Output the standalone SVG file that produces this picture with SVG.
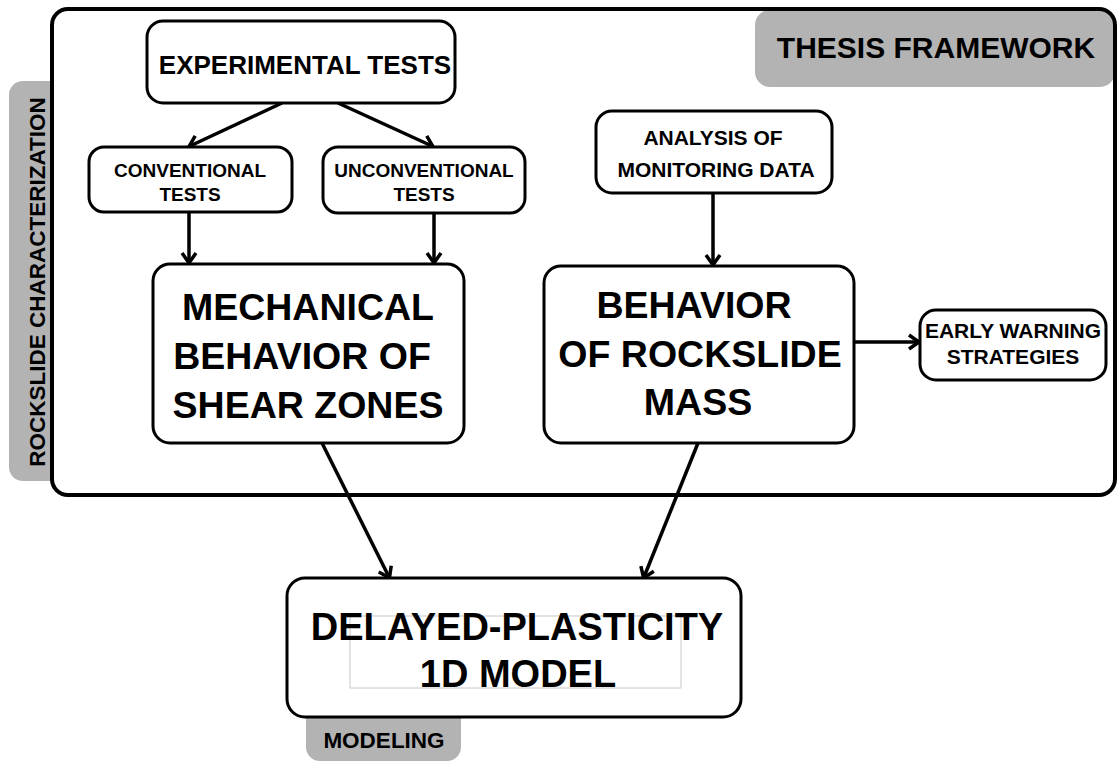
<svg xmlns="http://www.w3.org/2000/svg" width="1117" height="763" viewBox="0 0 1117 763">
<style>
.tab{fill:#b3b3b3}
.box{fill:#fff;stroke:#000;stroke-width:3}
.t{font-family:"Liberation Sans",Arial,sans-serif;font-weight:bold;fill:#000;text-anchor:middle}
.c{stroke:#000;stroke-width:3.5;fill:none;marker-end:url(#ah)}
</style>
<defs>
<marker id="ah" markerUnits="userSpaceOnUse" markerWidth="18" markerHeight="20" viewBox="-3 -3 18 20" refX="9" refY="7" orient="auto">
<path d="M0,0 L10,7 L0,14" fill="none" stroke="#000" stroke-width="3.5" stroke-linejoin="miter"/>
</marker>
</defs>
<rect width="1117" height="763" fill="#fff"/>
<g id="tab-rockslide">
<rect class="tab" x="9" y="81" width="60" height="400" rx="14"/>
<text class="t" font-size="22.5" transform="translate(45,282) rotate(-90)">ROCKSLIDE CHARACTERIZATION</text>
</g>
<g id="frame-fill">
<rect x="52" y="9" width="1063" height="486" rx="16" fill="#fff"/>
</g>
<g id="tab-thesis">
<rect class="tab" x="755" y="10" width="360" height="77" rx="15"/>
<text class="t" font-size="30" x="936" y="58">THESIS FRAMEWORK</text>
</g>
<g id="frame">
<rect x="52" y="9" width="1063" height="486" rx="16" fill="none" stroke="#000" stroke-width="4"/>
</g>
<g id="tab-modeling">
<rect class="tab" x="306" y="705" width="155" height="56" rx="14"/>
<text class="t" font-size="22.5" x="384" y="748">MODELING</text>
</g>
<g id="connectors">
<line class="c" x1="282" y1="103" x2="190" y2="146"/>
<line class="c" x1="338" y1="103" x2="432" y2="146"/>
<line class="c" x1="189" y1="212" x2="189" y2="262"/>
<line class="c" x1="434" y1="213" x2="434" y2="262"/>
<line class="c" x1="713" y1="193" x2="713" y2="264"/>
<line class="c" x1="854" y1="342" x2="918" y2="342"/>
<line class="c" x1="322" y1="443" x2="389" y2="577"/>
<line class="c" x1="698" y1="443" x2="644" y2="577"/>
</g>
<g id="experimental-tests">
<rect class="box" x="147" y="21" width="308" height="82" rx="16"/>
<text class="t" font-size="26" x="305" y="74">EXPERIMENTAL TESTS</text>
</g>
<g id="conventional-tests">
<rect class="box" x="89" y="147" width="203" height="65" rx="15"/>
<text class="t" font-size="19" x="190" y="177">CONVENTIONAL</text>
<text class="t" font-size="19" x="190" y="201">TESTS</text>
</g>
<g id="unconventional-tests">
<rect class="box" x="323" y="147" width="202" height="66" rx="15"/>
<text class="t" font-size="19" x="424" y="177">UNCONVENTIONAL</text>
<text class="t" font-size="19" x="424" y="201">TESTS</text>
</g>
<g id="mechanical-behavior">
<rect class="box" x="153" y="264" width="311" height="179" rx="17"/>
<text class="t" font-size="37.5" x="308" y="320">MECHANICAL</text>
<text class="t" font-size="37.5" x="302" y="369">BEHAVIOR OF</text>
<text class="t" font-size="37.5" x="308" y="418">SHEAR ZONES</text>
</g>
<g id="analysis-monitoring">
<rect class="box" x="596" y="111" width="236" height="82" rx="16"/>
<text class="t" font-size="21" x="713" y="145">ANALYSIS OF</text>
<text class="t" font-size="21" x="716" y="177">MONITORING DATA</text>
</g>
<g id="behavior-rockslide">
<rect class="box" x="544" y="266" width="310" height="177" rx="17"/>
<text class="t" font-size="37.5" x="694" y="318">BEHAVIOR</text>
<text class="t" font-size="37.5" x="700" y="367">OF ROCKSLIDE</text>
<text class="t" font-size="37.5" x="698" y="415">MASS</text>
</g>
<g id="early-warning">
<rect class="box" x="920" y="310" width="186" height="70" rx="16"/>
<text class="t" font-size="21" x="1013" y="338">EARLY WARNING</text>
<text class="t" font-size="21" x="1013" y="364">STRATEGIES</text>
</g>
<g id="delayed-plasticity">
<rect class="box" x="287" y="578" width="454" height="139" rx="18" stroke-width="4"/>
<rect x="350" y="616" width="331" height="72" fill="none" stroke="#c8c8c8" stroke-width="1"/>
<text class="t" font-size="38" x="517" y="640">DELAYED-PLASTICITY</text>
<text class="t" font-size="38" x="518" y="687">1D MODEL</text>
</g>
</svg>
